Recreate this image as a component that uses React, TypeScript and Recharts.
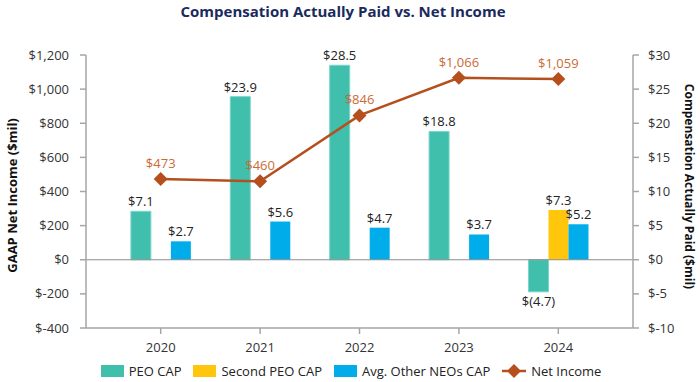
import React from "react";
import {
  ComposedChart,
  Bar,
  Line,
  XAxis,
  YAxis,
  Legend,
  LabelList,
  ReferenceLine,
} from "recharts";

const years = ["2020", "2021", "2022", "2023", "2024"];
const peoCap = [7.1, 23.9, 28.5, 18.8, -4.7];
const secondPeoCap: (number | null)[] = [null, null, null, null, 7.3];
const otherNeosCap = [2.7, 5.6, 4.7, 3.7, 5.2];
const netIncome = [473, 460, 846, 1066, 1059];

const leftTicks = [-400, -200, 0, 200, 400, 600, 800, 1000, 1200];
const rightTicks = [-10, -5, 0, 5, 10, 15, 20, 25, 30];
const seriesOrder = ["PEO CAP", "Second PEO CAP", "Avg. Other NEOs CAP", "Net Income"];

const TEAL = "#40BFAD";
const YELLOW = "#FFC60B";
const BLUE = "#00ADEA";
const BROWN = "#B5501E";
const ORANGE_TEXT = "#CC6A36";
const AXIS = "#A6A6A6";
const FONT = "'Open Sans', sans-serif";

const data = years.map((year, i) => ({
  year,
  peo: peoCap[i],
  second: secondPeoCap[i],
  other: otherNeosCap[i],
  net: netIncome[i],
}));

const money = (v: number) =>
  v < 0 ? `$-${Math.abs(v).toLocaleString("en-US")}` : `$${v.toLocaleString("en-US")}`;

const capLabel = (v: any) => {
  if (v === null || v === undefined) return "";
  const n = Number(v);
  return n < 0 ? `$(${Math.abs(n).toFixed(1)})` : `$${n.toFixed(1)}`;
};

const Diamond = (props: any) => {
  const { cx, cy } = props;
  if (cx == null || cy == null) return null;
  const r = 7;
  return (
    <polygon
      points={`${cx},${cy - r} ${cx + r},${cy} ${cx},${cy + r} ${cx - r},${cy}`}
      fill={BROWN}
    />
  );
};

const LegendContent = (props: any) => {
  const payload = [...(props.payload || [])].sort(
    (a: any, b: any) => seriesOrder.indexOf(a.value) - seriesOrder.indexOf(b.value)
  );
  return (
    <div
      style={{
        display: "flex",
        justifyContent: "center",
        alignItems: "center",
        height: 18,
        fontFamily: FONT,
        fontSize: 13,
        color: "#222",
        paddingLeft: 14,
      }}
    >
      {payload.map((p: any) => (
        <div key={p.value} style={{ display: "flex", alignItems: "center", marginRight: 12 }}>
          {p.type === "line" ? (
            <svg width={24} height={14} style={{ marginRight: 5 }}>
              <line x1={0} y1={7} x2={24} y2={7} stroke={BROWN} strokeWidth={2.5} />
              <polygon points="12,0 19,7 12,14 5,7" fill={BROWN} />
            </svg>
          ) : (
            <span
              style={{
                display: "inline-block",
                width: 23,
                height: 12,
                background: p.color,
                marginRight: 5,
              }}
            />
          )}
          <span>{p.value}</span>
        </div>
      ))}
    </div>
  );
};

export default function App() {
  return (
    <div
      style={{
        position: "absolute",
        left: 0,
        top: 0,
        width: 700,
        height: 382,
        background: "#fff",
        fontFamily: FONT,
      }}
    >
      <div
        style={{
          position: "absolute",
          top: 0,
          left: 0,
          width: 686,
          textAlign: "center",
          fontSize: 15,
          fontWeight: 700,
          color: "#1B2A5E",
          lineHeight: "22px",
        }}
      >
        Compensation Actually Paid vs. Net Income
      </div>
      <ComposedChart
        width={700}
        height={382}
        data={data}
        margin={{ top: 55, right: 0, bottom: 0, left: 0 }}
        barCategoryGap="20%"
        barGap={0}
      >
        <XAxis
          dataKey="year"
          height={34}
          padding={{ left: 25, right: 25 }}
          axisLine={{ stroke: AXIS, strokeWidth: 1.5 }}
          tickLine={{ stroke: AXIS, strokeWidth: 1.5 }}
          tickSize={6}
          tickMargin={9}
          tick={{ fill: "#333", fontSize: 13, fontFamily: FONT }}
        />
        <YAxis
          yAxisId="left"
          width={86}
          domain={[-400, 1200]}
          ticks={leftTicks}
          interval={0}
          tickFormatter={money}
          axisLine={{ stroke: AXIS, strokeWidth: 1.5 }}
          tickLine={{ stroke: AXIS, strokeWidth: 1.5 }}
          tickSize={6}
          tickMargin={11}
          tick={{ fill: "#333", fontSize: 13, fontFamily: FONT }}
          label={{
            content: ({ viewBox }: any) => {
              const cy = viewBox.y + viewBox.height / 2 + 4;
              return (
                <text
                  x={12}
                  y={cy}
                  transform={`rotate(-90 12 ${cy})`}
                  textAnchor="middle"
                  dominantBaseline="central"
                  fontSize={13}
                  fontWeight={700}
                  fill="#111"
                  fontFamily={FONT}
                >
                  GAAP Net Income ($mil)
                </text>
              );
            },
          }}
        />
        <YAxis
          yAxisId="right"
          orientation="right"
          width={67}
          domain={[-10, 30]}
          ticks={rightTicks}
          interval={0}
          tickFormatter={money}
          axisLine={{ stroke: AXIS, strokeWidth: 1.5 }}
          tickLine={{ stroke: AXIS, strokeWidth: 1.5 }}
          tickSize={6}
          tickMargin={9}
          tick={{ fill: "#333", fontSize: 13, fontFamily: FONT }}
          label={{
            content: ({ viewBox }: any) => {
              const cy = viewBox.y + viewBox.height / 2 - 5;
              return (
                <text
                  x={689}
                  y={cy}
                  transform={`rotate(90 689 ${cy})`}
                  textAnchor="middle"
                  dominantBaseline="central"
                  fontSize={12}
                  fontWeight={700}
                  fill="#111"
                  fontFamily={FONT}
                >
                  Compensation Actually Paid ($mil)
                </text>
              );
            },
          }}
        />
        <ReferenceLine yAxisId="left" y={0} stroke="#8C8C8C" strokeWidth={1.2} />
        <Bar
          yAxisId="right"
          dataKey="peo"
          name="PEO CAP"
          fill={TEAL}
          stroke="#7DD5C8"
          strokeWidth={1}
          isAnimationActive={false}
        >
          <LabelList
            dataKey="peo"
            position="top"
            offset={5}
            formatter={capLabel as never}
            style={{ fill: "#222", fontSize: 13, fontFamily: FONT }}
          />
        </Bar>
        <Bar
          yAxisId="right"
          dataKey="second"
          name="Second PEO CAP"
          fill={YELLOW}
          isAnimationActive={false}
        >
          <LabelList
            dataKey="second"
            position="top"
            offset={5}
            formatter={capLabel as never}
            style={{ fill: "#222", fontSize: 13, fontFamily: FONT }}
          />
        </Bar>
        <Bar
          yAxisId="right"
          dataKey="other"
          name="Avg. Other NEOs CAP"
          fill={BLUE}
          isAnimationActive={false}
        >
          <LabelList
            dataKey="other"
            position="top"
            offset={5}
            formatter={capLabel as never}
            style={{ fill: "#222", fontSize: 13, fontFamily: FONT }}
          />
        </Bar>
        <Line
          yAxisId="left"
          dataKey="net"
          name="Net Income"
          type="linear"
          stroke={BROWN}
          strokeWidth={2.5}
          dot={<Diamond />}
          activeDot={false}
          legendType="line"
          isAnimationActive={false}
        >
          <LabelList
            dataKey="net"
            position="top"
            offset={11}
            formatter={((v: number) => money(v)) as never}
            style={{ fill: ORANGE_TEXT, fontSize: 13, fontFamily: FONT }}
          />
        </Line>
        <Legend
          verticalAlign="bottom"
          align="center"
          height={20}
          content={<LegendContent />}
          wrapperStyle={{ left: 0, width: 700, bottom: 0 }}
        />
      </ComposedChart>
    </div>
  );
}
